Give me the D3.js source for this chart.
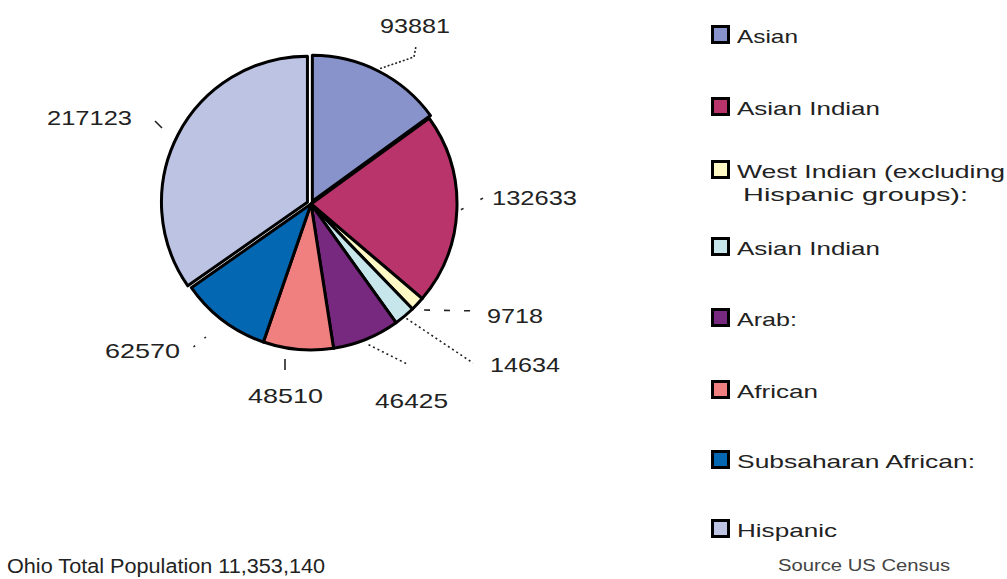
<!DOCTYPE html>
<html>
<head>
<meta charset="utf-8">
<script src="https://cdn.jsdelivr.net/npm/d3@7"></script>
<style>
  html, body { margin: 0; padding: 0; background: #fff; }
  svg { display: block; }
  text { font-family: "Liberation Sans", Arial, sans-serif; fill: #222; }
</style>
</head>
<body>
<svg id="chart" width="1007" height="579"></svg>
<script>
// ---- data ----
const categories = ["Asian", "Asian Indian", "West Indian (excluding Hispanic groups):", "Asian Indian", "Arab:", "African", "Subsaharan African:", "Hispanic"];
const values = [93881, 132633, 9718, 14634, 46425, 48510, 62570, 217123];
const colors = ["#8893cb", "#b8346b", "#fdf8c4", "#c6e6ec", "#77287f", "#f07f7f", "#0467b1", "#bcc3e3"];
const legendLines = [["Asian"], ["Asian Indian"], ["West Indian (excluding", "Hispanic groups):"], ["Asian Indian"], ["Arab:"], ["African"], ["Subsaharan African:"], ["Hispanic"]];
const footnote = "Ohio Total Population 11,353,140";
const source = "Source US Census";

// ---- layout ----
const cx = 311, cy = 204, R = 146;
const explode = [3, 0, 0, 0, 0, 0, 0, 4];
const labelPos = [
  {x: 380, y: 33, w: 70},
  {x: 492, y: 205, w: 85},
  {x: 487, y: 323, w: 56},
  {x: 490, y: 372, w: 70},
  {x: 375, y: 408, w: 73},
  {x: 248, y: 403, w: 75},
  {x: 105, y: 358, w: 75},
  {x: 47, y: 125, w: 85}
];
const leaders = [
  {r0: 6, pts: [[414, 57], [416, 46]], dash: "2,2"},
  {r0: 4, pts: [[487, 196]], dash: "3,19"},
  {r0: 9, pts: [[481, 311]], dash: "6,14"},
  {r0: 3, pts: [[473, 363]], dash: "2,3"},
  {r0: 6, pts: [[407, 364]], dash: "2,3"},
  {r0: null, pts: [[285, 359], [285, 370]], dash: null},
  {r0: null, pts: [[206, 337], [191, 349]], dash: "2,12"},
  {r0: null, pts: [[155, 121], [162, 128]], dash: null}
];
const legendX = 711, legendSize = 19;
const legendTops = [25, 97, 160, 237, 308, 380, 450, 519];
const legendWidths = [[61], [143], [268, 225], [143], [60], [81], [238], [100]];
const legendLineX = [[737], [737], [737, 743], [737], [737], [737], [737], [737]];

const svg = d3.select("#chart");

const pie = d3.pie().sort(null).value(d => d)(values);
const arc = d3.arc().innerRadius(0).outerRadius(R);

const g = svg.append("g").attr("transform", `translate(${cx},${cy})`);

g.selectAll("path.slice")
  .data(pie)
  .join("path")
  .attr("class", "slice")
  .attr("d", arc)
  .attr("fill", (d, i) => colors[i])
  .attr("stroke", "#000")
  .attr("stroke-width", 3)
  .attr("stroke-linejoin", "round")
  .attr("transform", (d, i) => {
    const a = (d.startAngle + d.endAngle) / 2;
    const e = explode[i];
    return `translate(${e * Math.sin(a)},${-e * Math.cos(a)})`;
  });

pie.forEach((d, i) => {
  const L = leaders[i];
  const a = (d.startAngle + d.endAngle) / 2;
  let pts = [];
  if (L.r0 !== null) {
    const r = R + L.r0;
    pts.push([cx + r * Math.sin(a), cy - r * Math.cos(a)]);
  }
  pts = pts.concat(L.pts);
  svg.append("path")
    .attr("d", d3.line()(pts))
    .attr("fill", "none")
    .attr("stroke", "#222")
    .attr("stroke-width", 1.6)
    .attr("stroke-dasharray", L.dash);
});

svg.selectAll("text.val")
  .data(values)
  .join("text")
  .attr("class", "val")
  .attr("x", (d, i) => labelPos[i].x)
  .attr("y", (d, i) => labelPos[i].y)
  .attr("font-size", 21)
  .attr("textLength", (d, i) => labelPos[i].w)
  .attr("lengthAdjust", "spacingAndGlyphs")
  .text(d => String(d));

legendLines.forEach((lines, i) => {
  svg.append("rect")
    .attr("x", legendX + 1.5)
    .attr("y", legendTops[i] + 1.5)
    .attr("width", legendSize - 3)
    .attr("height", legendSize - 3)
    .attr("fill", colors[i])
    .attr("stroke", "#000")
    .attr("stroke-width", 3);
  lines.forEach((t, j) => {
    svg.append("text")
      .attr("x", legendLineX[i][j])
      .attr("y", legendTops[i] + 18 + j * 23)
      .attr("font-size", 19)
      .attr("textLength", legendWidths[i][j])
      .attr("lengthAdjust", "spacingAndGlyphs")
      .text(t);
  });
});

svg.append("text")
  .attr("x", 7).attr("y", 573)
  .attr("font-size", 20)
  .attr("textLength", 318)
  .attr("lengthAdjust", "spacingAndGlyphs")
  .text(footnote);

svg.append("text")
  .attr("x", 778).attr("y", 571)
  .attr("font-size", 16)
  .attr("textLength", 172)
  .attr("lengthAdjust", "spacingAndGlyphs")
  .style("fill", "#444")
  .text(source);
</script>
</body>
</html>
